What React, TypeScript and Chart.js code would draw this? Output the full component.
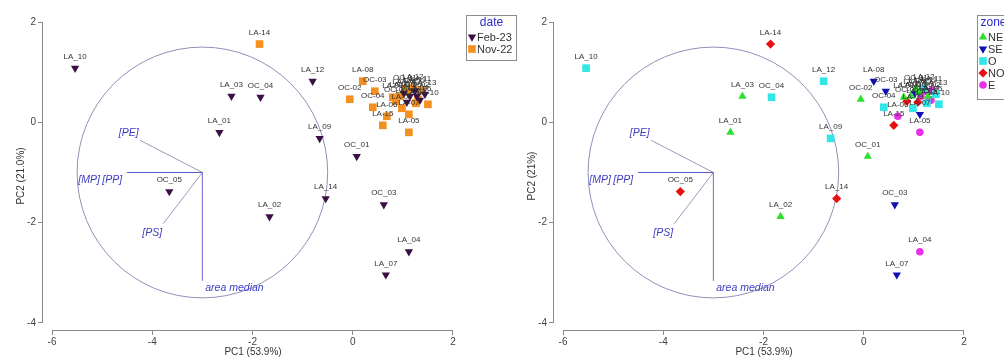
import React, { useEffect, useRef } from "react";
import { Chart, registerables } from "chart.js";

Chart.register(...registerables);

// ---------- data ----------
const xTicks = [-6, -4, -2, 0, 2];
const yTicks = [-4, -2, 0, 2];

const febSites = ["LA_10", "LA_03", "OC_04", "LA_01", "LA_12", "LA_09", "OC_01", "OC_05", "LA_02", "LA_14", "OC_03", "LA_04", "LA_07", "LA_05", "LA_06", "LA_08", "LA_11", "LA_13", "LA_15", "OC_02"];
const febPC1 = [-5.54, -2.42, -1.84, -2.66, -0.8, -0.66, 0.08, -3.66, -1.66, -0.54, 0.62, 1.12, 0.66, 1.34, 1.14, 1.02, 1.24, 1.44, 1.08, 1.28];
const febPC2 = [1.08, 0.52, 0.5, -0.2, 0.82, -0.32, -0.68, -1.38, -1.88, -1.52, -1.64, -2.58, -3.04, 0.44, 0.52, 0.58, 0.62, 0.56, 0.4, 0.52];
const febZone = ["O", "NE", "O", "NE", "O", "O", "NE", "NO", "NE", "NO", "SE", "E", "SE", "E", "E", "SE", "E", "O", "NO", "NE"];

const novSites = ["LA-14", "LA-08", "OC-03", "OC-02", "OC-04", "LA-06", "LA-15", "LA-05", "LA-01", "LA-03", "LA-09", "LA-07", "LA-10", "LA-02", "LA-04", "LA-11", "LA-12", "LA-13", "OC-01", "OC-05"];
const novPC1 = [-1.86, 0.2, 0.44, -0.06, 0.4, 0.68, 0.6, 1.12, 0.8, 0.94, 0.98, 1.12, 1.5, 1.1, 1.3, 1.36, 1.2, 1.26, 1.04, 0.86];
const novPC2 = [1.56, 0.82, 0.62, 0.46, 0.3, 0.12, -0.06, -0.2, 0.5, 0.52, 0.28, 0.16, 0.36, 0.6, 0.46, 0.64, 0.68, 0.38, 0.66, 0.42];
const novZone = ["NO", "SE", "SE", "NE", "O", "E", "NO", "E", "NE", "NE", "O", "SE", "O", "NE", "E", "E", "O", "O", "NE", "NO"];

const dateNames = ["Feb-23", "Nov-22"];
const zoneNames = ["NE", "SE", "O", "NO", "E"];

const loadingNames = ["[PE]", "[MP]", "[PP]", "[PS]", "area median"];
const loadingPC1 = [-4.24, -4.5, -4.5, -3.78, -3.0];
const loadingPC2 = [-0.36, -1.0, -1.0, -2.02, -3.16];
const loadingLabelPC1 = [-4.47, -5.26, -4.8, -4.0, -2.36];
const loadingLabelPC2 = [-0.22, -1.16, -1.16, -2.2, -3.3];
const circleCenter = [-3, -1];
const circleRadius = 2.5;

// ---------- styles ----------
const FONT = "'Liberation Sans', Arial, Helvetica, sans-serif";
const AXIS = "#8a8a8a";
const TICK = "#444444";
const FEB_COLOR = "#3b1145";
const NOV_COLOR = "#f39020";
const zoneColors = ["#2ee02e", "#1010b0", "#30e6e6", "#e81010", "#e830e8"];
const zoneStyles = ["triangle", "triangle", "rect", "rectRot", "circle"];
const zoneRot = [0, 180, 0, 0, 0];
const zoneRad = [4.8, 4.8, 5.4, 4.6, 3.8];
const loadingLineColors = ["#9c97b8", "#5a5ac8", "#5a5ac8", "#9c97b8", "#6c6cd0"];

const X_MIN = -6.18;
const X_MAX = 2.2;
const Y_MIN = -4.14;
const Y_MAX = 2;

type Item = { label: string; style: string; rotation: number; radius: number; color: string };

function drawMarker(ctx: CanvasRenderingContext2D, style: string, x: number, y: number, r: number, rotation: number, color: string) {
  ctx.save();
  ctx.fillStyle = color;
  ctx.beginPath();
  if (style === "triangle") {
    let rad = (rotation * Math.PI) / 180;
    ctx.moveTo(x + Math.sin(rad) * r, y - Math.cos(rad) * r);
    rad += (2 * Math.PI) / 3;
    ctx.lineTo(x + Math.sin(rad) * r, y - Math.cos(rad) * r);
    rad += (2 * Math.PI) / 3;
    ctx.lineTo(x + Math.sin(rad) * r, y - Math.cos(rad) * r);
    ctx.closePath();
  } else if (style === "rect") {
    const s = r * Math.SQRT1_2;
    ctx.rect(x - s, y - s, 2 * s, 2 * s);
  } else if (style === "rectRot") {
    ctx.moveTo(x - r, y);
    ctx.lineTo(x, y - r);
    ctx.lineTo(x + r, y);
    ctx.lineTo(x, y + r);
    ctx.closePath();
  } else {
    ctx.arc(x, y, r, 0, Math.PI * 2);
  }
  ctx.fill();
  ctx.restore();
}

function legendPlugin(title: string, items: Item[], box: { x: number; y: number; w: number; h: number; step: number }) {
  return {
    id: "customLegend",
    afterDraw(chart: any) {
      const ctx: CanvasRenderingContext2D = chart.ctx;
      ctx.save();
      ctx.fillStyle = "#ffffff";
      ctx.fillRect(box.x, box.y, box.w, box.h);
      ctx.strokeStyle = "#8c8c8c";
      ctx.lineWidth = 1;
      ctx.strokeRect(box.x + 0.5, box.y + 0.5, box.w, box.h);
      ctx.fillStyle = "#2b2bd0";
      ctx.font = `12px ${FONT}`;
      ctx.textAlign = "center";
      ctx.textBaseline = "middle";
      ctx.fillText(title, box.x + box.w / 2 + 0.5, box.y + 8);
      ctx.font = `11px ${FONT}`;
      ctx.textAlign = "left";
      items.forEach((it, i) => {
        const yy = box.y + 22 + i * box.step;
        drawMarker(ctx, it.style, box.x + 6, yy, it.radius, it.rotation, it.color);
        ctx.fillStyle = "#333333";
        ctx.fillText(it.label, box.x + 11, yy + 0.5);
      });
      ctx.restore();
    },
  };
}

const axisLinesPlugin = {
  id: "axisLines",
  afterDraw(chart: any) {
    const { ctx, chartArea } = chart;
    const x = chart.scales.x;
    const y = chart.scales.y;
    ctx.save();
    ctx.strokeStyle = AXIS;
    ctx.lineWidth = 1;
    ctx.beginPath();
    const bx = Math.round(chartArea.left) - 0.5;
    ctx.moveTo(bx, y.getPixelForValue(yTicks[yTicks.length - 1]));
    ctx.lineTo(bx, y.getPixelForValue(yTicks[0]));
    const by = Math.round(chartArea.bottom) + 0.5;
    ctx.moveTo(x.getPixelForValue(xTicks[0]), by);
    ctx.lineTo(x.getPixelForValue(xTicks[xTicks.length - 1]), by);
    ctx.stroke();
    ctx.restore();
  },
};

const biplotPlugin = {
  id: "biplot",
  beforeDatasetsDraw(chart: any) {
    const { ctx } = chart;
    const x = chart.scales.x;
    const y = chart.scales.y;
    const cx = x.getPixelForValue(circleCenter[0]);
    const cy = y.getPixelForValue(circleCenter[1]);
    const rx = x.getPixelForValue(circleCenter[0] + circleRadius) - cx;
    const ry = cy - y.getPixelForValue(circleCenter[1] + circleRadius);
    ctx.save();
    ctx.lineWidth = 1;
    ctx.strokeStyle = "#9090b8";
    ctx.beginPath();
    ctx.ellipse(cx, cy, rx, ry, 0, 0, Math.PI * 2);
    ctx.stroke();
    loadingNames.forEach((_, i) => {
      ctx.strokeStyle = loadingLineColors[i];
      ctx.beginPath();
      ctx.moveTo(cx, cy);
      ctx.lineTo(x.getPixelForValue(loadingPC1[i]), y.getPixelForValue(loadingPC2[i]));
      ctx.stroke();
    });
    ctx.fillStyle = "#3c3cc4";
    ctx.font = `italic 10.5px ${FONT}`;
    ctx.textAlign = "center";
    ctx.textBaseline = "middle";
    loadingNames.forEach((name, i) => {
      ctx.fillText(name, x.getPixelForValue(loadingLabelPC1[i]), y.getPixelForValue(loadingLabelPC2[i]));
    });
    ctx.restore();
  },
};

const namesPlugin = {
  id: "pointNames",
  afterDatasetsDraw(chart: any) {
    const { ctx } = chart;
    ctx.save();
    ctx.font = `8px ${FONT}`;
    ctx.fillStyle = "#333333";
    ctx.textAlign = "center";
    ctx.textBaseline = "middle";
    chart.data.datasets.forEach((ds: any, i: number) => {
      const meta = chart.getDatasetMeta(i);
      meta.data.forEach((el: any, j: number) => {
        ctx.fillText(ds.data[j].name, el.x, el.y - 11.5);
      });
    });
    ctx.restore();
  },
};

function scales(yTitle: string) {
  const tickFont = { family: FONT, size: 10 };
  return {
    x: {
      type: "linear",
      min: X_MIN,
      max: X_MAX,
      afterBuildTicks: (s: any) => {
        s.ticks = xTicks.map((v) => ({ value: v }));
      },
      afterFit: (s: any) => {
        s.height = 28;
      },
      grid: { display: true, drawOnChartArea: false, drawTicks: true, tickLength: 5, color: AXIS },
      border: { display: false },
      ticks: { color: TICK, font: tickFont, padding: 1, maxRotation: 0, autoSkip: false, callback: (v: any) => String(v) },
      title: { display: true, text: "PC1 (53.9%)", color: "#333333", font: tickFont, padding: { top: 0, bottom: 0 } },
    },
    y: {
      type: "linear",
      min: Y_MIN,
      max: Y_MAX,
      afterBuildTicks: (s: any) => {
        s.ticks = yTicks.map((v) => ({ value: v }));
      },
      afterFit: (s: any) => {
        s.width = 43;
      },
      grid: { display: true, drawOnChartArea: false, drawTicks: true, tickLength: 5, color: AXIS },
      border: { display: false },
      ticks: { color: TICK, font: tickFont, padding: 2, autoSkip: false, callback: (v: any) => String(v) },
      title: { display: true, text: yTitle, color: "#333333", font: tickFont, padding: { top: 15, bottom: 0 } },
    },
  };
}

function baseOptions(yTitle: string, rightPad: number) {
  return {
    responsive: false,
    animation: false,
    events: [],
    layout: { padding: { left: 0, top: 22, right: rightPad, bottom: 0 } },
    plugins: { legend: { display: false }, tooltip: { enabled: false } },
    scales: scales(yTitle),
  };
}

function buildLeft(): any {
  const feb = febSites.map((s, i) => ({ x: febPC1[i], y: febPC2[i], name: s }));
  const nov = novSites.map((s, i) => ({ x: novPC1[i], y: novPC2[i], name: s }));
  const items: Item[] = [
    { label: dateNames[0], style: "triangle", rotation: 180, radius: 4.8, color: FEB_COLOR },
    { label: dateNames[1], style: "rect", rotation: 0, radius: 5.4, color: NOV_COLOR },
  ];
  return {
    type: "scatter",
    data: {
      datasets: [
        { label: dateNames[0], data: feb, pointStyle: "triangle", pointRotation: 180, pointRadius: 4.8, pointBackgroundColor: FEB_COLOR, pointBorderColor: FEB_COLOR, pointBorderWidth: 0, clip: false },
        { label: dateNames[1], data: nov, pointStyle: "rect", pointRotation: 0, pointRadius: 5.4, pointBackgroundColor: NOV_COLOR, pointBorderColor: NOV_COLOR, pointBorderWidth: 0, clip: false },
      ],
    },
    options: baseOptions("PC2 (21.0%)", 57),
    plugins: [biplotPlugin, namesPlugin, axisLinesPlugin, legendPlugin("date", items, { x: 466, y: 15, w: 50, h: 45, step: 12 })],
  };
}

function buildRight(): any {
  const datasets = zoneNames.map((z, k) => {
    const pts: any[] = [];
    febSites.forEach((s, i) => {
      if (febZone[i] === z) pts.push({ x: febPC1[i], y: febPC2[i], name: s });
    });
    novSites.forEach((s, i) => {
      if (novZone[i] === z) pts.push({ x: novPC1[i], y: novPC2[i], name: s });
    });
    return {
      label: z,
      data: pts,
      pointStyle: zoneStyles[k],
      pointRotation: zoneRot[k],
      pointRadius: zoneRad[k],
      pointBackgroundColor: zoneColors[k],
      pointBorderColor: zoneColors[k],
      pointBorderWidth: 0,
      clip: false,
    };
  });
  const items: Item[] = zoneNames.map((z, k) => ({ label: z, style: zoneStyles[k], rotation: zoneRot[k], radius: zoneRad[k], color: zoneColors[k] }));
  return {
    type: "scatter",
    data: { datasets },
    options: baseOptions("PC2 (21%)", 48),
    plugins: [biplotPlugin, namesPlugin, axisLinesPlugin, legendPlugin("zone", items, { x: 466, y: 15, w: 32, h: 84, step: 12 })],
  };
}

export default function App() {
  const leftRef = useRef<HTMLCanvasElement>(null);
  const rightRef = useRef<HTMLCanvasElement>(null);
  useEffect(() => {
    const c1 = new Chart(leftRef.current as HTMLCanvasElement, buildLeft());
    const c2 = new Chart(rightRef.current as HTMLCanvasElement, buildRight());
    return () => {
      c1.destroy();
      c2.destroy();
    };
  }, []);
  return (
    <div style={{ position: "absolute", left: 0, top: 0, width: 1004, height: 358, overflow: "hidden", background: "#ffffff" }}>
      <canvas ref={leftRef} width={520} height={358} style={{ position: "absolute", left: 0, top: 0, width: 520, height: 358 }} />
      <canvas ref={rightRef} width={511} height={358} style={{ position: "absolute", left: 511, top: 0, width: 511, height: 358 }} />
    </div>
  );
}
